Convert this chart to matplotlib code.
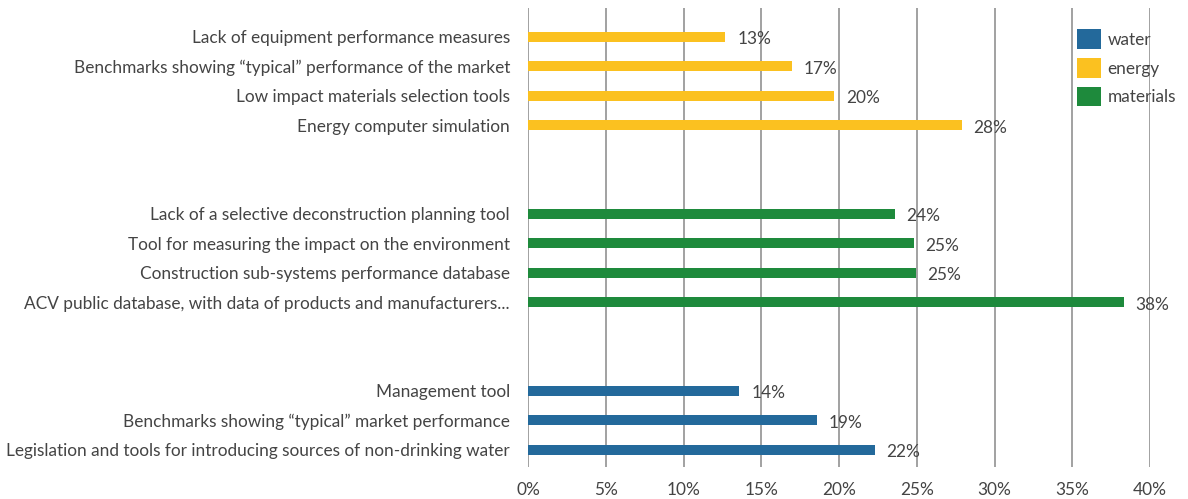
import matplotlib
matplotlib.use("Agg")
import matplotlib.pyplot as plt
from matplotlib.patches import Patch

# ------------------------------------------
# Data
# ------------------------------------------
energy_labels = [
    "Lack of equipment performance measures",
    "Benchmarks showing \u201ctypical\u201d performance of the market",
    "Low impact materials selection tools",
    "Energy computer simulation",
]
energy_values = [12.7, 17.0, 19.7, 27.9]

materials_labels = [
    "Lack of a selective deconstruction planning tool",
    "Tool for measuring the impact on the environment",
    "Construction sub-systems performance database",
    "ACV public database, with data of products and manufacturers...",
]
materials_values = [23.6, 24.8, 24.95, 38.3]

water_labels = [
    "Management tool",
    "Benchmarks showing \u201ctypical\u201d market performance",
    "Legislation and tools for introducing sources of non-drinking water",
]
water_values = [13.6, 18.6, 22.3]

x_ticks = [0, 5, 10, 15, 20, 25, 30, 35, 40]

COLORS = {"water": "#23699B", "energy": "#FBC120", "materials": "#1E8A3C"}
TEXT = "#444444"
GRID = "#9A9A9A"
FS = 12.4

plt.rcParams["font.family"] = ["Lato", "DejaVu Sans"]

fig = plt.figure(figsize=(11.88, 4.99), dpi=100)
ax = fig.add_axes([528 / 1188, 1 - 467 / 499, (1150 - 528) / 1188, (467 - 8) / 499])

# slot positions: groups separated by two empty rows
groups = [
    ("energy", energy_labels, energy_values, 0),
    ("materials", materials_labels, materials_values, 6),
    ("water", water_labels, water_values, 12),
]

ytick_pos, ytick_lab = [], []
for name, labels, values, start in groups:
    pos = [start + i for i in range(len(values))]
    ax.barh(pos, values, height=0.34, color=COLORS[name], zorder=3)
    for p, v in zip(pos, values):
        ax.text(v + 0.75, p + 0.08, f"{v:.0f}%", va="center", ha="left",
                fontsize=FS, color=TEXT, zorder=4)
    ytick_pos += pos
    ytick_lab += labels

ax.set_ylim(14.58, -0.98)
ax.set_xlim(0, 40)
ax.set_yticks(ytick_pos)
ax.set_yticklabels(ytick_lab, fontsize=FS, color=TEXT)
ax.set_xticks(x_ticks)
ax.set_xticklabels([f"{t}%" for t in x_ticks], fontsize=FS, color=TEXT)
ax.tick_params(axis="y", length=0, pad=13)
ax.tick_params(axis="x", length=0, pad=11)

ax.xaxis.grid(True, color=GRID, linewidth=1.3, zorder=0)
ax.set_axisbelow(True)
for s in ax.spines.values():
    s.set_visible(False)

handles = [Patch(facecolor=COLORS[k]) for k in ["water", "energy", "materials"]]
leg = fig.legend(handles, ["water", "energy", "materials"], loc="upper left",
                 bbox_to_anchor=(1061 / 1188, 1 - 14 / 499), frameon=False,
                 fontsize=FS, handlelength=1.4, handleheight=1.4,
                 labelspacing=0.5, handletextpad=0.4, labelcolor=TEXT)

fig.savefig("out.png", dpi=100)
